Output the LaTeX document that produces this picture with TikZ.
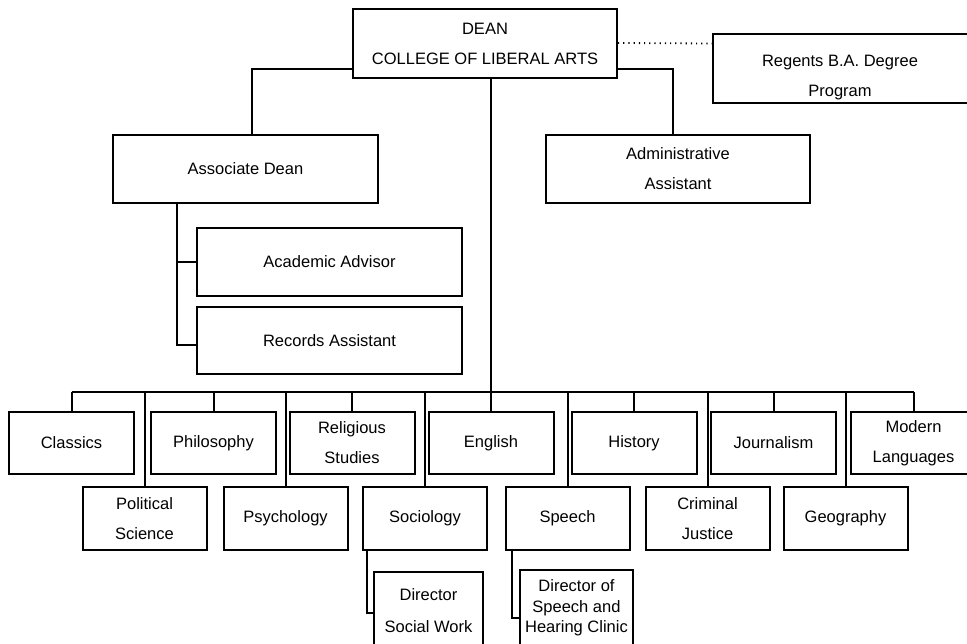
\documentclass[tikz,border=0pt]{standalone}
\usepackage{fontspec}
\setmainfont{Liberation Sans}
\begin{document}
\begin{tikzpicture}[x=1pt,y=-1pt,
  box/.style={draw, line width=2pt, inner sep=0pt, align=center, font=\fontsize{16.5}{30}\selectfont},
  txt/.style={inner sep=0pt, align=center, font=\fontsize{16.5}{30}\selectfont},
  link/.style={line width=2pt},
  top/.style={box, minimum width=125pt, minimum height=62pt},
  low/.style={box, minimum width=124pt, minimum height=63pt}]
\clip (0,0) rectangle (967,643);
\fill[white] (0,0) rectangle (967,643);
% top level
\node[box, minimum width=264pt, minimum height=69pt] (dean) at (485,43.5) {DEAN\\COLLEGE OF LIBERAL ARTS};
\node[box, minimum width=259pt, minimum height=69pt] (regents) at (842.5,68.5) {};
\node[txt] (regentstxt) at (840,78) {Regents B.A. Degree\\Program};
\node[box, minimum width=265pt, minimum height=68pt] (assoc) at (245.5,169) {Associate Dean};
\node[box, minimum width=264pt, minimum height=68pt] (admin) at (678,169) {Administrative\\Assistant};
\node[box, minimum width=265pt, minimum height=68pt] (academic) at (329.5,262) {Academic Advisor};
\node[box, minimum width=265pt, minimum height=67pt] (records) at (329.5,340.5) {Records Assistant};
% departments, upper row
\node[top] (classics) at (71.5,443) {Classics};
\node[top] (philosophy) at (213.5,443) {Philosophy};
\node[top] (religious) at (352,443) {Religious\\Studies};
\node[top] (english) at (491,443) {English};
\node[top] (history) at (634,443) {History};
\node[top] (journalism) at (773.5,443) {Journalism};
\node[top] (modern) at (913.5,443) {Modern\\Languages};
% departments, lower row
\node[low] (polsci) at (144.5,518.5) {Political\\Science};
\node[low] (psychology) at (285.5,518.5) {Psychology};
\node[low] (sociology) at (425,518.5) {Sociology};
\node[low] (speech) at (567.5,518.5) {Speech};
\node[low] (criminal) at (707.5,518.5) {Criminal\\Justice};
\node[low] (geography) at (845.5,518.5) {Geography};
% directors
\node[box, minimum width=109pt, minimum height=78pt] (dirsw) at (428.5,611) {Director\\[2pt]Social Work};
\node[box, minimum width=113pt, minimum height=76pt, font=\fontsize{16.5}{20.5}\selectfont] (dirsh) at (576.5,608) {Director of\\Speech and\\Hearing Clinic};
% connectors
\coordinate (bus) at (0,392);
\draw[link] ([yshift=10pt]dean.south west) -| ([xshift=6pt]assoc.north);
\draw[link] ([yshift=10pt]dean.south east) -| ([xshift=-5pt]admin.north);
\draw[line width=1.8pt, dash pattern=on 1.2pt off 4pt] ([yshift=0.5pt]dean.east) -- (regents.west |- dean.east);
\draw[link] (english.north) -- (english.north |- dean.south);
\draw[link] ([xshift=-68.5pt]assoc.south) coordinate (av) |- ([yshift=-4pt]records.west);
\draw[link] (academic.west) -- (academic.west -| av);
\draw[link] (classics.north |- bus) -- (modern.north |- bus);
\foreach \d in {classics,philosophy,religious,english,history,journalism,modern,polsci,psychology,sociology,speech,criminal,geography}
  \draw[link] (\d.north) -- (\d.north |- bus);
\draw[link] ([xshift=5pt]sociology.south west) |- ([yshift=-2pt]dirsw.west);
\draw[link] ([xshift=7pt]speech.south west) |- ([yshift=-10pt]dirsh.west);
\end{tikzpicture}
\end{document}
